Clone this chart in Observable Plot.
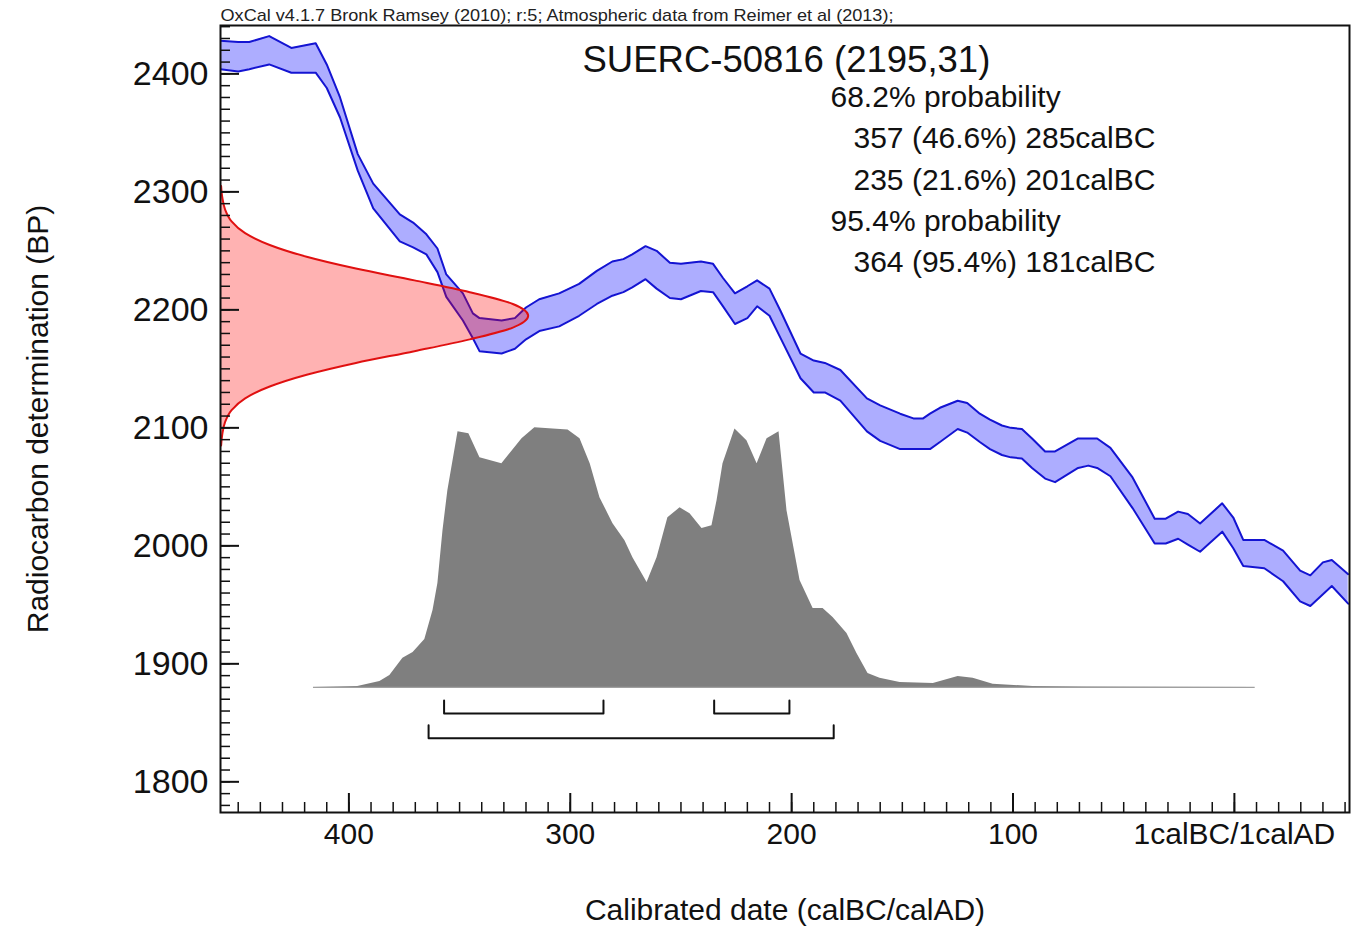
<!DOCTYPE html>
<html><head><meta charset="utf-8">
<script src="https://cdn.jsdelivr.net/npm/d3@7"></script>
<script src="https://cdn.jsdelivr.net/npm/@observablehq/plot@0.6"></script>
<style>
body{margin:0;background:#fff;}
#chart{width:1355px;height:930px;}
</style></head><body><div id="chart"></div>
<script>
// ---------------- DATA ----------------
// Calibration curve (IntCal13 band), calBC (negative = AD)
const calYears = [458,450,445,436,426,415,410,404,396,389,377,371,365,360,356,348.5,344,341,331,325,320,314,305,296,288,281,276,272,266,261,255,250,241,235.5,231,225.6,220,215.6,210,205,196,190,185,178,166,160,151,145,140.6,137.5,133,125,120.7,115,110.4,105,101,96,91.4,85.5,81,70.6,66,62,56,46,36,31,25.4,21,15.5,5.5,0.5,-4,-13.5,-22,-29.7,-34.3,-40,-44,-51.4];
const curveUpper = [2428,2427,2427,2432,2422,2426,2408,2380,2332,2307,2281,2274,2264,2252,2230,2214,2197,2193,2191,2193,2202,2209,2214,2222,2233,2241,2243,2247,2254,2250,2240,2239,2241,2239,2227,2214,2220,2225,2218,2199,2163,2157,2155,2149,2125,2119,2112,2108,2108,2112,2117,2123,2121,2112,2107,2102,2100,2099,2091,2080,2080,2091,2091,2091,2083,2058,2023,2023,2029,2027,2019,2036,2024,2005,2005,1996,1979,1975,1986,1988,1976];
const curveLower = [2404,2402,2404,2408,2401,2401,2388,2363,2318,2286,2258,2253,2247,2232,2211,2191,2176,2165,2163,2167,2175,2182,2186,2195,2205,2212,2215,2219,2226,2218,2210,2209,2216,2215,2203,2188,2193,2203,2195,2176,2142,2130,2130,2123,2097,2089,2082,2082,2082,2082,2088,2099,2096,2088,2082,2077,2075,2074,2066,2057,2054,2066,2068,2066,2059,2032,2002,2002,2006,2001,1995,2012,1998,1983,1981,1970,1953,1949,1959,1966,1951];

// Radiocarbon measurement 2195 ± 31 BP (relative probability)
const measBP   = [2305,2295,2285,2275,2265,2255,2245,2235,2225,2215,2205,2195,2185,2175,2165,2155,2145,2135,2125,2115,2105,2095,2085];
const measProb = [0.002,0.006,0.015,0.036,0.08,0.16,0.28,0.44,0.63,0.81,0.95,1,0.95,0.81,0.63,0.44,0.28,0.16,0.08,0.036,0.015,0.006,0.002];

// Calibrated date distribution (relative probability)
const postCal  = [416,396,386,381.5,375.6,371,365.7,362,359.8,357.5,355.3,350.7,345.8,340.8,330.9,321.8,316,307.8,301,295.6,291,286.6,280.7,275.3,271.7,265.3,260.8,255.9,250.4,245.9,240.5,236,233.7,231,225.6,220.2,215.6,211.1,205.7,202.1,196.2,190.3,185.8,181.3,175,170.5,165.5,160.1,151,136,124.8,118,109,91,68,-9.4];
const postProb = [0,0.004,0.023,0.046,0.112,0.135,0.185,0.296,0.4,0.604,0.758,0.985,0.977,0.885,0.862,0.958,1,0.996,0.992,0.958,0.862,0.731,0.631,0.565,0.5,0.404,0.5,0.654,0.692,0.669,0.612,0.623,0.719,0.862,0.996,0.95,0.862,0.958,0.985,0.681,0.412,0.304,0.304,0.269,0.208,0.131,0.054,0.035,0.019,0.015,0.042,0.035,0.012,0.004,0.002,0];

// Probability ranges (calBC)
const range68 = [[357,285],[235,201]];
const range95 = [[364,181]];

// Ticks
const xTickValues = [400,300,200,100,0];
const xTickLabels = ["400","300","200","100","1calBC/1calAD"];
const yTickValues = [1800,1900,2000,2100,2200,2300,2400];

// Texts
const headerText = "OxCal v4.1.7 Bronk Ramsey (2010); r:5; Atmospheric data from Reimer et al (2013);";
const sampleTitle = "SUERC-50816 (2195,31)";
const resultLines = ["68.2% probability","357 (46.6%) 285calBC","235 (21.6%) 201calBC","95.4% probability","364 (95.4%) 181calBC"];
const xLabel = "Calibrated date (calBC/calAD)";
const yLabel = "Radiocarbon determination (BP)";

// ---------------- LAYOUT ----------------
const X_DOMAIN = [-52, 458];
const Y_DOMAIN = [1774, 2441];
const X_LEFT = 458;
const MEAS_WIDTH = 139;      // cal years at peak of measurement curve
const POST_BASE = 1880;      // baseline of calibrated distribution (BP units)
const POST_HEIGHT = 220;     // height of its peak (BP units)
const LEVEL68 = 1858, LEVEL95 = 1837, BRACKET_TICK = 11;
const FONT = "'Liberation Sans', Arial, Helvetica, sans-serif";

const calib = calYears.map((c, i) => ({cal: c, upper: curveUpper[i], lower: curveLower[i]}));
const meas = measBP.map((b, i) => ({bp: b, x2: X_LEFT - measProb[i] * MEAS_WIDTH}));
const post = postCal.map((c, i) => ({cal: c, top: POST_BASE + postProb[i] * POST_HEIGHT}));
const brackets = [];
[[range68, LEVEL68, "a"], [range95, LEVEL95, "b"]].forEach(([ranges, L, tag]) => {
  ranges.forEach(([a, b], k) => {
    const id = tag + k;
    brackets.push({id, x: a, y: L + BRACKET_TICK}, {id, x: a, y: L}, {id, x: b, y: L}, {id, x: b, y: L + BRACKET_TICK});
  });
});
const xMinor = d3.range(450, -51, -10);
const yMinor = d3.range(1780, 2441, 10);

const resultMarks = resultLines.map((t, i) => Plot.text([t], {
  frameAnchor: "top-left", dx: t.includes("probability") ? 610 : 633, dy: 72 + i * 41.25,
  textAnchor: "start", lineAnchor: "middle", fontSize: 30, fill: "#111"
}));

const svg = Plot.plot({
  width: 1355, height: 930,
  marginLeft: 220, marginRight: 6, marginTop: 25, marginBottom: 118,
  style: {fontFamily: FONT, background: "#fff", color: "#111"},
  x: {domain: X_DOMAIN, reverse: true},
  y: {domain: Y_DOMAIN},
  marks: [
    Plot.areaY(calib, {x: "cal", y1: "lower", y2: "upper", fill: "#0000ff", fillOpacity: 0.32, clip: true}),
    Plot.line(calib, {x: "cal", y: "upper", stroke: "#1414d2", strokeWidth: 2, clip: true}),
    Plot.line(calib, {x: "cal", y: "lower", stroke: "#1414d2", strokeWidth: 2, clip: true}),
    Plot.areaX(meas, {y: "bp", x1: X_LEFT, x2: "x2", fill: "#ff0000", fillOpacity: 0.3, curve: "monotone-y", clip: true}),
    Plot.line(meas, {x: "x2", y: "bp", stroke: "#e01010", strokeWidth: 2, curve: "monotone-y", clip: true}),
    Plot.areaY(post, {x: "cal", y1: POST_BASE, y2: "top", fill: "#7f7f7f"}),
    Plot.ruleY([POST_BASE], {x1: postCal[0], x2: postCal[postCal.length - 1], stroke: "#a0a0a0", strokeWidth: 1.2}),
    Plot.line(brackets, {x: "x", y: "y", z: "id", stroke: "#111", strokeWidth: 2}),
    // axes: inward ticks
    Plot.axisY(yMinor, {anchor: "left", tickSize: -10, fill: "none", label: null, stroke: "#111", strokeWidth: 1.5}),
    Plot.axisY(yTickValues, {anchor: "left", tickSize: -19, fill: "none", label: null, stroke: "#111", strokeWidth: 2}),
    Plot.axisY(yTickValues, {anchor: "left", tickSize: 0, tickPadding: 12, label: null, fontSize: 34, fill: "#111",
      tickFormat: d => String(d)}),
    Plot.axisX(xMinor, {anchor: "bottom", tickSize: -10, fill: "none", label: null, stroke: "#111", strokeWidth: 1.5}),
    Plot.axisX(xTickValues, {anchor: "bottom", tickSize: -19, fill: "none", label: null, stroke: "#111", strokeWidth: 2}),
    Plot.axisX(xTickValues, {anchor: "bottom", tickSize: 0, tickPadding: 10, label: null, fontSize: 30, fill: "#111",
      tickFormat: d => xTickLabels[xTickValues.indexOf(d)]}),
    Plot.frame({stroke: "#111", strokeWidth: 2}),
    // texts
    Plot.text([headerText], {frameAnchor: "top-left", dy: -10, textAnchor: "start", lineAnchor: "middle", fontSize: 17, fill: "#222"}),
    Plot.text([sampleTitle], {frameAnchor: "top-left", dx: 362, dy: 35, textAnchor: "start", lineAnchor: "middle", fontSize: 36.5, fill: "#111"}),
    ...resultMarks,
    Plot.text([yLabel], {frameAnchor: "left", dx: -182, rotate: -90, textAnchor: "middle", lineAnchor: "middle", fontSize: 30, fill: "#111"}),
    Plot.text([xLabel], {frameAnchor: "bottom", dy: 98, textAnchor: "middle", lineAnchor: "middle", fontSize: 30, fill: "#111"})
  ]
});
d3.select(svg).selectAll("text").filter(function() { return this.textContent === headerText; })
  .attr("textLength", 673).attr("lengthAdjust", "spacingAndGlyphs");
document.getElementById("chart").appendChild(svg);
</script>
</body></html>
